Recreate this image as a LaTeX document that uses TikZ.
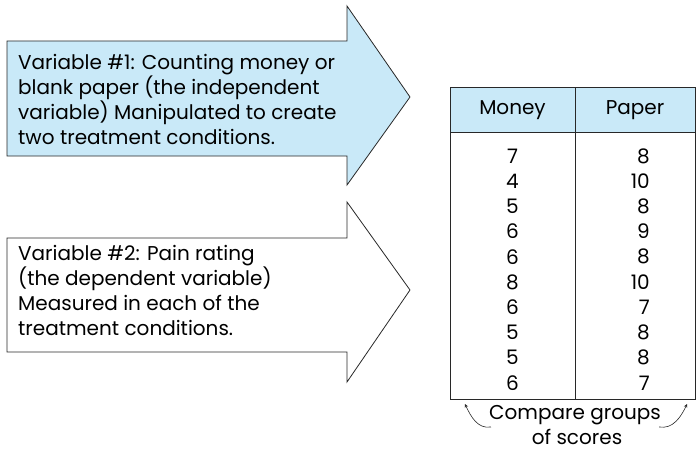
\documentclass[tikz,border=0pt]{standalone}
\usepackage{fontspec}
\setmainfont{Poppins}
\definecolor{lightblue}{RGB}{201,233,248}
\definecolor{edgegray}{RGB}{40,40,40}
\begin{document}
\begin{tikzpicture}[x=1pt, y=-1pt, font=\fontsize{20}{25}\selectfont]
      \useasboundingbox (0,0) rectangle (696,452);
      \draw[edgegray, fill=lightblue, line width=0.8pt] (7,41) -- (347,41) -- (347,6) -- (410,97) -- (347,185) -- (347,156) -- (7,156) -- cycle;
      \draw[edgegray, fill=white, line width=0.8pt] (7,238) -- (347,238) -- (347,202) -- (410,290) -- (347,382) -- (347,352) -- (7,352) -- cycle;
      \node[anchor=west, align=left, inner sep=0pt] (var1) at (18,99) {Variable \#1: Counting money or\\blank paper (the independent\\variable) Manipulated to create\\two treatment conditions.};
      \node[anchor=west, align=left, inner sep=0pt] (var2) at (18,290) {Variable \#2: Pain rating\\(the dependent variable)\\Measured in each of the\\treatment conditions.};

      \fill[lightblue] (450,87) rectangle (695,132);
      \draw[edgegray, line width=0.8pt] (450,87) rectangle (695,399);
      \draw[edgegray, line width=0.8pt] (450,132) -- (695,132);
      \draw[edgegray, line width=0.8pt] (575,87) -- (575,399);
      \node (money) at (512.5,110) {Money};
      \node (paper) at (635,110) {Paper};
      \foreach \row/\m/\p in {1/7/8, 2/4/10, 3/5/8, 4/6/9, 5/6/8, 6/8/10, 7/6/7, 8/5/8, 9/5/8, 10/6/7}{
        \node (m\row) at (512.5,130.8+25.2*\row) {\m};
        \node[anchor=east, inner sep=0pt] (p\row) at (650,130.8+25.2*\row) {\p};
      }

      \node[inner sep=0pt] (cmp) at (575,415) {Compare groups};
      \node[inner sep=0pt] (ofs) at (577,437) {of scores};
      \coordinate (tl) at (465,404);
      \coordinate (tr) at (687,404);
      \draw[edgegray, ->, >=stealth, line width=0.6pt] ([xshift=2pt, yshift=-2pt]cmp.south west) to[out=190, in=-65] (tl);
      \draw[edgegray, ->, >=stealth, line width=0.6pt] ([xshift=-2pt, yshift=-2pt]cmp.south east) to[out=-10, in=245] (tr);
    \end{tikzpicture}
\end{document}
